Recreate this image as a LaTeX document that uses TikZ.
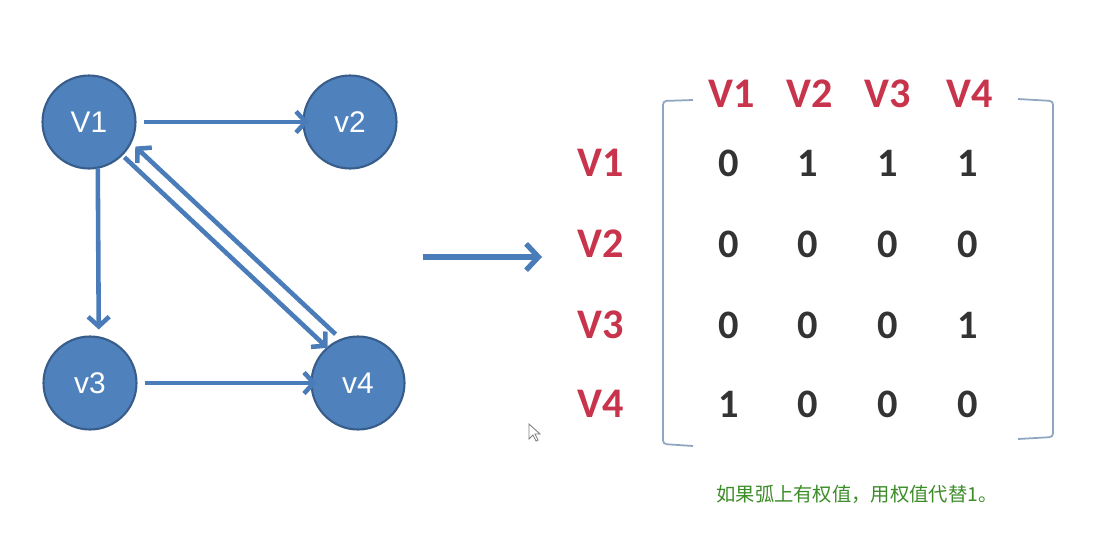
\documentclass[tikz,border=0pt]{standalone}
\usepackage{fontspec}
\setmainfont{Liberation Sans}
\newfontfamily\calib{Carlito}
\newfontfamily\cjk{Noto Sans CJK SC}
\usetikzlibrary{arrows.meta,positioning}
\definecolor{nodeblue}{RGB}{79,129,189}
\definecolor{nodeedge}{RGB}{56,93,138}
\definecolor{arcblue}{RGB}{74,124,185}
\definecolor{labred}{RGB}{200,52,75}
\definecolor{digitgrey}{RGB}{51,51,51}
\definecolor{bracketgrey}{RGB}{142,166,192}
\definecolor{notegreen}{RGB}{60,140,40}

\begin{document}
\begin{tikzpicture}[x=0.02cm,y=-0.02cm,
    vert/.style={circle,draw=nodeedge,line width=1.2pt,fill=nodeblue,minimum size=1.86cm,
      inner sep=0pt,outer sep=0pt,text=white,font=\fontsize{17}{19}\selectfont},
    arc/.style={draw=arcblue,line width=2.6pt,-{Straight Barb[length=5.5pt,width=12pt]}},
    biglink/.style={draw=arcblue,line width=3pt,-{Straight Barb[length=7pt,width=15pt]}},
    lab/.style={text=labred,font=\calib\bfseries\fontsize{24}{26}\selectfont},
    entry/.style={text=digitgrey,font=\calib\bfseries\fontsize{23}{25}\selectfont},
    bracket/.style={draw=bracketgrey,line width=1pt,rounded corners=2pt}]
    \useasboundingbox (0,0) rectangle (1115,548);
    % graph
    \node[vert] (v1) at (89,122) {V1};
    \node[vert] (v2) at (350,122) {v2};
    \node[vert] (v3) at (90,383) {v3};
    \node[vert] (v4) at (358,383) {v4};
    \draw[arc,shorten <=5pt,shorten >=-3pt] (v1) -- (v2);
    \draw[arc,shorten >=4pt] ([xshift=5pt]v1.south) -- ([xshift=5pt]v3.north);
    \draw[arc,shorten <=5pt,shorten >=-3pt] (v3) -- (v4);
    \draw[arc,shorten <=2pt] (v1.-45) -- (v4.131);
    \draw[arc,shorten <=4.5pt,shorten >=3.5pt] (v4.111) -- (v1.-26);
    % big arrow
    \coordinate (from) at (423,257);
    \coordinate (to) at (542,257);
    \draw[biglink] (from) -- (to);
    % matrix
    \foreach \c/\x in {1/732,2/810,3/888,4/970}
      \node[lab] (c\c) at (\x,94) {V\c};
    \foreach \r/\y/\a/\b/\c/\d in {1/163/0/1/1/1,2/244/0/0/0/0,3/325/0/0/0/1,4/404/1/0/0/0} {
      \node[lab] (r\r) at (601,\y) {V\r};
      \node[entry] (m\r1) at (729,\y) {\a};
      \node[entry] (m\r2) at (808,\y) {\b};
      \node[entry] (m\r3) at (888,\y) {\c};
      \node[entry] (m\r4) at (968,\y) {\d};
    }
    \draw[bracket] (693,100) -- (663,101) -- (663,444) -- (693,446);
    \draw[bracket] (1018,99) -- (1053,101) -- (1053,437) -- (1018,439);
    % note
    \node[text=notegreen,font=\cjk\fontsize{11}{13}\selectfont] (note) at (857,494) {如果弧上有权值，用权值代替1。};
    % cursor
    \draw[gray,line width=0.5pt,fill=white] (529,424) -- (529,439) -- (533,435) -- (536,441)
      -- (538,440) -- (535,434) -- (540,434) -- cycle;
\end{tikzpicture}
\end{document}
